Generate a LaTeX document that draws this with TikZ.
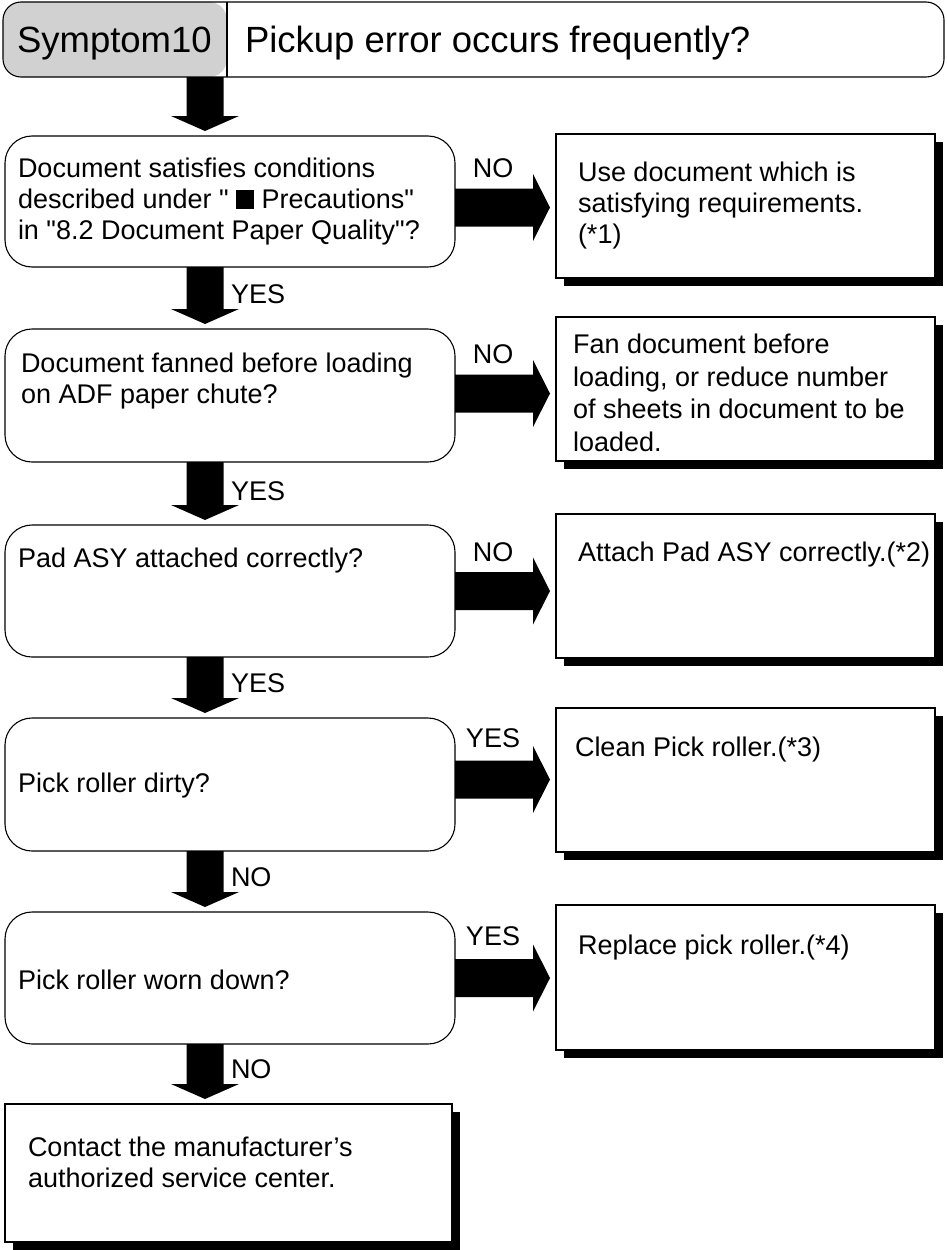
\documentclass[tikz,border=0pt]{standalone}
\usepackage{fontspec}
\setmainfont{Liberation Sans}[Ligatures=TeXOff]
\usetikzlibrary{calc,shadows}
\definecolor{hgray}{gray}{0.82}
\newcommand\fatdown[2]{\fill let \p1=(#1), \p2=(#2) in (\x1-18.5pt,\y1) -- (\x1+18.5pt,\y1) -- (\x1+18.5pt,\y2+20pt) -- (\x1+34pt,\y2+20pt) -- (\x1,\y2+5pt) -- (\x1-34pt,\y2+20pt) -- (\x1-18.5pt,\y2+20pt) -- cycle;}
\newcommand\fatright[2]{\fill let \p1=(#1), \p2=(#2) in (\x1,\y1+19pt) -- (\x2-23pt,\y1+19pt) -- (\x2-23pt,\y1+33.5pt) -- (\x2-6pt,\y1) -- (\x2-23pt,\y1-33.5pt) -- (\x2-23pt,\y1-19pt) -- (\x1,\y1-19pt) -- cycle;}
\newcommand\blacksq{\rule{18pt}{19pt}}
\begin{document}
\begin{tikzpicture}[x=1pt,y=-1pt,
  every node/.style={inner sep=0pt, outer sep=0pt},
  dec/.style={draw, line width=1.1pt, rounded corners=27pt, minimum width=450pt, anchor=north west, fill=white},
  act/.style={draw, line width=1.1pt, minimum width=379pt, minimum height=144pt, anchor=north west, fill=white,
    drop shadow={shadow xshift=8pt, shadow yshift=-8pt, fill=black, opacity=1}},
  txt/.style={font=\fontsize{27}{31}\selectfont, align=left, anchor=north west},
  lbl/.style={font=\fontsize{27}{31}\selectfont, anchor=base},
  dlbl/.style={font=\fontsize{27}{31}\selectfont, anchor=base west},
  hfont/.style={font=\fontsize{36.5}{40}\selectfont, anchor=base west}
]
\useasboundingbox (0,0) rectangle (946,1250);

% header
\node[draw, line width=1.1pt, rounded corners=18pt, minimum width=941pt, minimum height=75pt, anchor=north west,
  path picture={\fill[hgray] (path picture bounding box.north west) rectangle ([xshift=224pt]path picture bounding box.south west);}] (hdr) at (3,2) {};
\draw[line width=1.1pt] ([xshift=224pt]hdr.north west) -- ([xshift=224pt]hdr.south west);
\node[hfont] (sym) at (17,52) {Symptom10};
\node[hfont] (q) at (245,52) {Pickup error occurs frequently?};

% decision boxes
\node[dec, minimum height=131pt] (d1) at (5,136) {};
\node[dec, minimum height=133pt] (d2) at (5,329) {};
\node[dec, minimum height=132pt] (d3) at (5,525) {};
\node[dec, minimum height=133pt] (d4) at (5,718) {};
\node[dec, minimum height=132pt] (d5) at (5,912) {};

% action boxes
\node[act] (a1) at (556,134) {};
\node[act] (a2) at (556,317) {};
\node[act] (a3) at (556,514) {};
\node[act] (a4) at (556,708) {};
\node[act, minimum height=145pt] (a5) at (556,905) {};
\node[act, minimum width=447pt, minimum height=138pt] (f) at (5,1104) {};

% texts
\node[txt] (t1) at (18,158) {Document satisfies conditions\\described under " \blacksq\ Precautions"\\in "8.2 Document Paper Quality"?};
\node[txt] (t2) at (21,353) {Document fanned before loading\\on ADF paper chute?};
\node[txt] (t3) at (18,548) {Pad ASY attached correctly?};
\node[txt] (t4) at (18,773) {Pick roller dirty?};
\node[txt] (t5) at (18,970) {Pick roller worn down?};
\node[txt] (u1) at (578,162) {Use document which is\\satisfying requirements.\\(*1)};
\node[txt, font=\fontsize{27}{32.5}\selectfont] (u2) at (573,334) {Fan document before\\loading, or reduce number\\of sheets in document to be\\loaded.};
\node[txt] (u3) at (578,542) {Attach Pad ASY correctly.(*2)};
\node[txt] (u4) at (575,737) {Clean Pick roller.(*3)};
\node[txt] (u5) at (578,935) {Replace pick roller.(*4)};
\node[txt] (u6) at (28,1137) {Contact the manufacturer’s\\authorized service center.};

% arrows
\coordinate (ax) at (205,0);
\fatdown{hdr.south -| ax}{d1.north -| ax}
\fatdown{d1.south -| ax}{d2.north -| ax}
\fatdown{d2.south -| ax}{d3.north -| ax}
\fatdown{d3.south -| ax}{d4.north -| ax}
\fatdown{d4.south -| ax}{d5.north -| ax}
\fatdown{d5.south -| ax}{f.north -| ax}
\fatright{[yshift=-6pt]d1.east}{a1.west}
\fatright{[yshift=2pt]d2.east}{a2.west}
\fatright{d3.east}{a3.west}
\fatright{[yshift=5pt]d4.east}{a4.west}
\fatright{d5.east}{a5.west}

% labels
\node[lbl] (n1) at (493,177) {NO};
\node[lbl] (n2) at (493,363) {NO};
\node[lbl] (n3) at (493,561) {NO};
\node[lbl] (n4) at (493,747) {YES};
\node[lbl] (n5) at (493,945) {YES};
\node[dlbl] (y1) at (231,303) {YES};
\node[dlbl] (y2) at (231,500) {YES};
\node[dlbl] (y3) at (231,692) {YES};
\node[dlbl] (y4) at (231,886) {NO};
\node[dlbl] (y5) at (231,1078) {NO};
\end{tikzpicture}
\end{document}
